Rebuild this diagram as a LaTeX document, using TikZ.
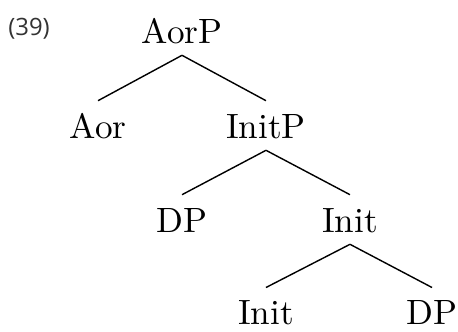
\documentclass[tikz,border=0pt]{standalone}
\usepackage{fontspec}
\newfontfamily\exfont{Open Sans}
\begin{document}
\begin{tikzpicture}[
	cat/.style={anchor=base, scale=2.5, font=\fontsize{10}{12}\selectfont, text height=0.25cm, text depth=0pt, inner ysep=0.116cm},
	branch/.style={line width=1pt}]
	\useasboundingbox (0,0) rectangle (11.45,-8.275);
	\draw node[anchor=base west, inner sep=0pt, text=black!80, font=\exfont\fontsize{17}{20}\selectfont] (ex) at (0.2,-0.875) {(39)};
	\draw node[cat] (aorp) at (4.55,-1.075) {AorP};
	\draw node[cat] (aor) at (2.45,-3.45) {Aor};
	\draw[branch] (aorp.south) -- (aor.north);
	\draw node[cat] (initp) at (6.65,-3.45) {InitP};
	\draw[branch] (aorp.south) -- (initp.north);
	\draw node[cat] (dpa) at (4.55,-5.8) {DP};
	\draw[branch] (initp.south) -- (dpa.north);
	\draw node[cat] (init) at (8.75,-5.8) {Init};
	\draw[branch] (initp.south) -- (init.north);
	\draw node[cat] (initb) at (6.65,-8.12) {Init};
	\draw[branch] (init.south) -- (initb.north);
	\draw node[cat] (dpb) at (10.8,-8.12) {DP};
	\draw[branch] (init.south) -- (dpb.north);
\end{tikzpicture}
\end{document}
